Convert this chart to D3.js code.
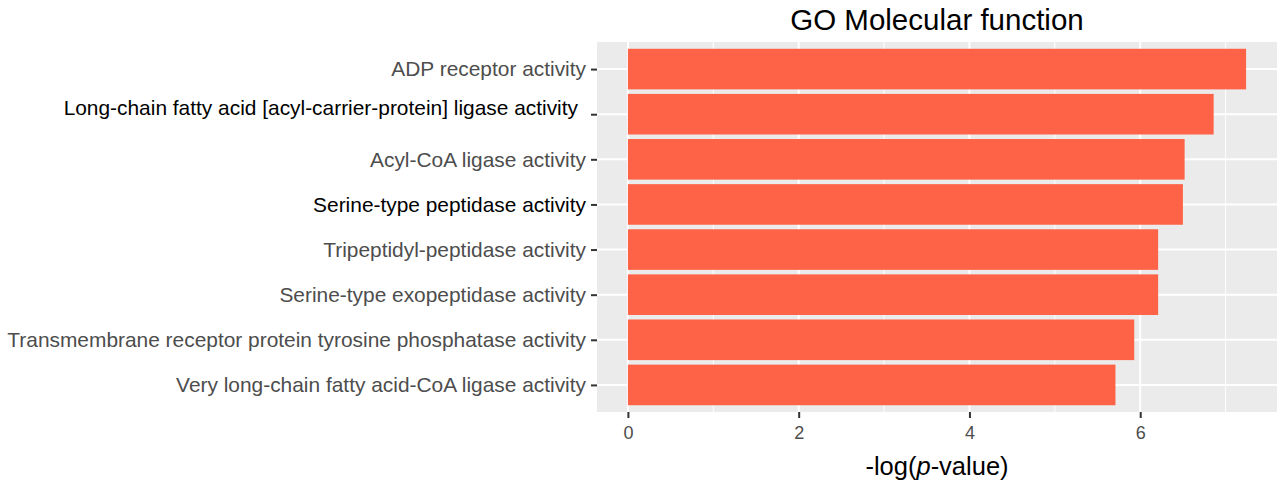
<!DOCTYPE html>
<html>
<head>
<meta charset="utf-8">
<script src="https://cdn.jsdelivr.net/npm/d3@7"></script>
<style>
  body { margin: 0; background: #fff; }
  svg text { font-family: "Liberation Sans", Arial, Helvetica, sans-serif; }
</style>
</head>
<body>
<div id="chart"></div>
<script>
// GO terms, top to bottom
const terms = [
    "ADP receptor activity",
    "Long-chain fatty acid [acyl-carrier-protein] ligase activity",
    "Acyl-CoA ligase activity",
    "Serine-type peptidase activity",
    "Tripeptidyl-peptidase activity",
    "Serine-type exopeptidase activity",
    "Transmembrane receptor protein tyrosine phosphatase activity",
    "Very long-chain fatty acid-CoA ligase activity"
];
// -log(p-value)
const scores = [7.24, 6.86, 6.52, 6.50, 6.21, 6.21, 5.93, 5.71];
const xTicks = [0, 2, 4, 6];
const xMinor = [1, 3, 5, 7];

const title = "GO Molecular function";

// a couple of labels are printed in black in the original figure
const darkLabels = new Set([terms[1], terms[3]]);
// this one sits a bit higher and further left than the rest (pasted in)
const shiftedLabel = terms[1];

const W = 1279, H = 484;
const panel = { left: 597, right: 1277, top: 42, bottom: 412 };

const data = terms.map((t, i) => ({ term: t, value: scores[i] }));

const svg = d3.select("#chart").append("svg")
    .attr("width", W)
    .attr("height", H);

// ggplot style expansion: 5% of the range on each side
const maxV = d3.max(scores);
const x = d3.scaleLinear()
    .domain([-0.05 * maxV, maxV * 1.05])
    .range([panel.left, panel.right]);

// discrete axis, 0.6 units of padding at each end, bars 0.9 wide
const step = (panel.bottom - panel.top) / (terms.length - 1 + 1.2);
const y = d3.scalePoint()
    .domain(terms)
    .range([panel.top + 0.6 * step, panel.bottom - 0.6 * step]);
const barH = step * 0.9;

// panel background
svg.append("rect")
    .attr("x", panel.left)
    .attr("y", panel.top)
    .attr("width", panel.right - panel.left)
    .attr("height", panel.bottom - panel.top)
    .attr("fill", "#ebebeb");

// grid
svg.append("g").selectAll("line")
    .data(xMinor)
    .join("line")
    .attr("x1", d => x(d)).attr("x2", d => x(d))
    .attr("y1", panel.top).attr("y2", panel.bottom)
    .attr("stroke", "#fff").attr("stroke-width", 1);

svg.append("g").selectAll("line")
    .data(xTicks)
    .join("line")
    .attr("x1", d => x(d)).attr("x2", d => x(d))
    .attr("y1", panel.top).attr("y2", panel.bottom)
    .attr("stroke", "#fff").attr("stroke-width", 2);

svg.append("g").selectAll("line")
    .data(terms)
    .join("line")
    .attr("x1", panel.left).attr("x2", panel.right)
    .attr("y1", d => y(d)).attr("y2", d => y(d))
    .attr("stroke", "#fff").attr("stroke-width", 2);

// bars
svg.append("g").selectAll("rect")
    .data(data)
    .join("rect")
    .attr("x", x(0))
    .attr("y", d => y(d.term) - barH / 2)
    .attr("width", d => x(d.value) - x(0))
    .attr("height", barH)
    .attr("fill", "#ff6347");

// y axis
const yAxis = svg.append("g")
    .attr("transform", `translate(${panel.left},0)`)
    .call(d3.axisLeft(y).tickSize(6).tickPadding(5));
yAxis.select(".domain").remove();
yAxis.selectAll(".tick line").attr("stroke", "#333").attr("stroke-width", 2);
yAxis.selectAll(".tick text")
    .attr("font-size", 20.9)
    .attr("fill", d => darkLabels.has(d) ? "#000" : "#4d4d4d");
yAxis.selectAll(".tick text")
    .filter(d => d === shiftedLabel)
    .attr("dx", -8)
    .attr("dy", "0.0em");

// x axis
const xAxis = svg.append("g")
    .attr("transform", `translate(0,${panel.bottom})`)
    .call(d3.axisBottom(x).tickValues(xTicks).tickSize(6).tickPadding(8).tickFormat(d3.format("d")));
xAxis.select(".domain").remove();
xAxis.selectAll(".tick line").attr("stroke", "#333").attr("stroke-width", 2);
xAxis.selectAll(".tick text")
    .attr("font-size", 18)
    .attr("fill", "#4d4d4d");

// axis title
const xt = svg.append("text")
    .attr("x", (panel.left + panel.right) / 2)
    .attr("y", 475)
    .attr("text-anchor", "middle")
    .attr("font-size", 25.5)
    .attr("fill", "#000");
xt.append("tspan").text("-log(");
xt.append("tspan").attr("font-style", "italic").text("p");
xt.append("tspan").text("-value)");

// plot title
svg.append("text")
    .attr("x", (panel.left + panel.right) / 2)
    .attr("y", 30)
    .attr("text-anchor", "middle")
    .attr("font-size", 29.5)
    .attr("fill", "#000")
    .text(title);
</script>
</body>
</html>
